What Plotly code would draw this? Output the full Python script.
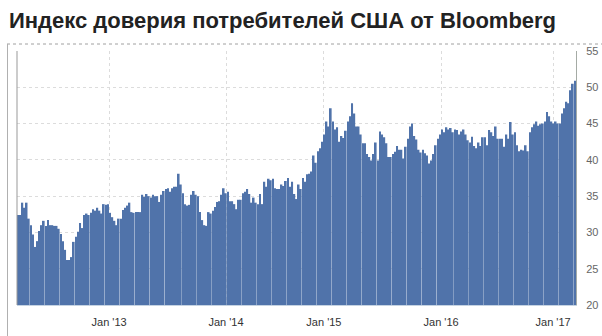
import plotly.graph_objects as go

title_text = "Индекс доверия потребителей США от Bloomberg"

values_part1 = [
    32.4, 32.4, 34.1, 33.4, 34.1, 31.9, 31.0, 29.7, 28.0, 28.8,
    30.2, 31.0, 31.6, 30.9, 31.7, 31.0, 31.0, 30.9, 30.9, 30.5,
    29.8, 28.8, 27.6, 26.2, 26.2, 26.6, 28.7, 29.4, 30.1, 31.3,
    30.6, 32.4, 32.6, 32.4, 32.7, 33.2, 33.0, 33.4, 33.0, 32.6,
    33.9, 33.8, 33.9, 32.7, 32.1, 31.6, 31.0, 31.9, 31.9, 33.1,
    33.4, 33.7, 34.1, 32.8, 32.7, 32.8, 32.8, 32.8, 35.2, 34.9,
    35.3, 35.0, 34.8, 35.2, 35.0, 35.0, 34.2, 35.2, 35.7, 36.0,
    36.1, 35.6, 36.1, 36.3, 36.3, 38.1, 36.6, 35.4, 33.9, 33.7,
    33.8, 35.2, 35.7, 35.2, 35.0, 32.8, 31.7, 31.0, 30.9, 32.8,
    32.6, 33.0, 33.5, 34.2, 34.3, 35.2, 36.1, 35.4, 35.6, 34.3,
    34.3, 33.9, 33.2, 34.5, 34.5, 35.4, 35.6, 36.0, 35.3, 34.1,
    34.8, 34.1, 33.9, 35.3, 33.9, 37.0, 36.3, 37.4, 37.2, 37.4,
    36.1, 36.0, 36.0, 36.6, 36.4, 37.1, 37.5, 36.3, 37.0, 35.3,
    34.6,
]
values_part2 = [
    36.6, 36.0, 37.5, 37.0, 38.0, 38.1, 38.4, 40.6, 39.6, 41.2,
    41.6, 42.5, 43.5, 45.3, 44.6, 47.1, 45.3, 44.2, 44.5, 42.5,
    43.3, 43.0, 44.0, 45.3, 46.0, 47.8, 46.4, 44.6, 44.6, 43.5,
    42.3, 42.3, 40.8, 40.4, 39.9, 40.8, 42.4, 39.9, 43.9, 43.5,
    43.1, 42.3, 40.4, 40.4, 40.8, 41.1, 41.9, 41.4, 41.4, 40.2,
    41.8, 42.9, 44.6, 45.0, 43.3, 42.8, 41.4, 41.0, 41.4, 40.9,
    40.6, 39.5, 39.9, 40.8, 42.0, 42.9, 43.5, 44.2, 43.8, 44.5,
    44.2, 44.4, 43.8, 44.2, 44.1, 43.5, 43.9, 44.2, 43.5, 42.7,
    42.4, 43.2, 41.9, 41.6, 42.4, 41.9, 43.1, 43.1, 42.0, 44.1,
    43.8, 43.3, 44.6, 42.9, 42.9, 42.9, 41.8, 43.5, 42.9, 45.2,
    43.5, 43.8, 42.0, 41.2, 41.4, 41.3, 42.0, 41.2, 43.8, 44.5,
    44.9, 45.3, 44.7, 44.9, 45.0, 45.3, 46.6, 46.0, 45.3, 45.0,
    45.3, 45.0, 45.0, 46.4, 47.1, 48.0, 47.8, 49.6, 50.5, 50.9,
]
values = values_part1 + values_part2

tick_index = [42.5, 97.1, 142.8, 197.5, 249.8]
tick_labels = ["Jan '13", "Jan '14", "Jan '15", "Jan '16", "Jan '17"]

y_ticks = [20, 25, 30, 35, 40, 45, 50, 55]

N = len(values)
W, H = 602, 336
ML, MR, MT, MB = 17, 26, 51, 31
pw, ph = W - ML - MR, H - MT - MB

def px_x(p):
    return (p - ML) / pw

def px_y(p):
    return (H - MB - p) / ph

fig = go.Figure(go.Bar(
    x=list(range(N)), y=values,
    marker=dict(color="#5073aa", line=dict(width=0)),
    hoverinfo="skip",
))

font_fam = "Liberation Sans, Arial, sans-serif"

fig.update_layout(
    width=W, height=H,
    margin=dict(l=ML, r=MR, t=MT, b=MB, pad=0),
    paper_bgcolor="white", plot_bgcolor="white",
    bargap=0.2,
    showlegend=False,
    title=dict(
        text=title_text, x=9 / W, xanchor="left", xref="container",
        y=1 - 20 / H, yanchor="middle", yref="container",
        font=dict(family=font_fam, size=22, color="#222222", weight=700),
    ),
    xaxis=dict(
        range=[-0.5, N - 0.5], tickvals=tick_index, ticktext=tick_labels,
        showgrid=True, gridcolor="#dcdcdc", griddash="dot", gridwidth=1,
        ticks="outside", ticklen=7, tickcolor="rgba(0,0,0,0)",
        showline=True, linecolor="#c5d3e2", linewidth=1,
        tickfont=dict(family=font_fam, size=11, color="#333333"),
        zeroline=False, fixedrange=True, automargin=False,
    ),
    yaxis=dict(
        side="right", range=[20, 55], tickvals=y_ticks,
        showgrid=True, gridcolor="#dcdcdc", griddash="dot", gridwidth=1,
        ticks="outside", ticklen=7, tickcolor="rgba(0,0,0,0)",
        showline=True, linecolor="#a5aba5", linewidth=1,
        tickfont=dict(family=font_fam, size=11, color="#666666"),
        zeroline=False, fixedrange=True, automargin=False,
    ),
    shapes=[
        dict(type="line", xref="paper", yref="paper",
             x0=px_x(7), x1=px_x(602), y0=px_y(44), y1=px_y(44),
             line=dict(color="#a0a0a0", width=1, dash="dot")),
        dict(type="line", xref="paper", yref="paper",
             x0=px_x(7.5), x1=px_x(7.5), y0=px_y(44), y1=px_y(336),
             line=dict(color="#b0b0b0", width=1)),
        dict(type="line", xref="paper", yref="paper",
             x0=0, x1=0, y0=0, y1=1,
             line=dict(color="#999999", width=1)),
    ],
)

fig.write_html("out.html")
